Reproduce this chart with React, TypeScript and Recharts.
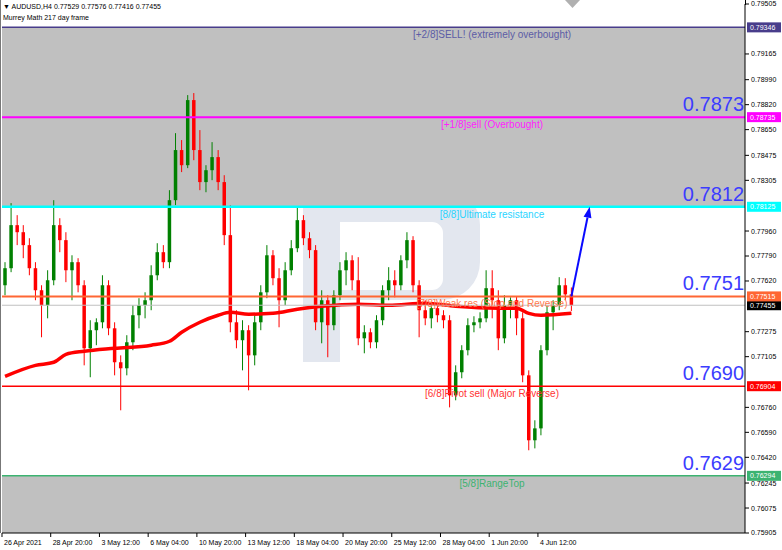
import React from "react";
import {
  Bar,
  ComposedChart,
  Customized,
  Line,
  ReferenceArea,
  ReferenceLine,
  XAxis,
  YAxis
} from "recharts";

const FONT = '"Liberation Sans", Arial, sans-serif';

// AUDUSD candles (two H4 bars per candle)
const opens = [
  0.77591, 0.77707, 0.78, 0.77952, 0.77864, 0.77707, 0.77557, 0.77455, 0.77625, 0.78,
  0.77898, 0.77693, 0.77748, 0.77591, 0.77162, 0.77285, 0.77339, 0.77591, 0.77298, 0.77067,
  0.77026, 0.77203, 0.77387, 0.77455, 0.77489, 0.77659, 0.77816, 0.77748, 0.7817, 0.78511,
  0.78408, 0.78851, 0.78511, 0.78293, 0.78374, 0.78463, 0.78293, 0.77932, 0.77339, 0.77217,
  0.77285, 0.77114, 0.77339, 0.77543, 0.77795, 0.77639, 0.77489, 0.77693, 0.77843, 0.78034,
  0.77911, 0.7783, 0.77339, 0.77489, 0.77319, 0.77523, 0.77693, 0.77761, 0.77625, 0.7723,
  0.77271, 0.77203, 0.77353, 0.77557, 0.77625, 0.77591, 0.77761, 0.77898, 0.77591, 0.77421,
  0.77366, 0.77435, 0.77387, 0.77353, 0.76842, 0.76999, 0.77149, 0.77319, 0.77339, 0.77366,
  0.77571, 0.77489, 0.7723, 0.77455, 0.77489, 0.77366, 0.76978, 0.76536, 0.76617, 0.77149,
  0.77407, 0.77455, 0.77591, 0.77529
];
const highs = [
  0.77748, 0.7815, 0.78068, 0.78, 0.77911, 0.77748, 0.77591, 0.77693, 0.7817, 0.78047,
  0.77952, 0.77795, 0.77775, 0.77625, 0.77353, 0.77366, 0.77659, 0.77625, 0.77339, 0.77114,
  0.77251, 0.77455, 0.77503, 0.77543, 0.77727, 0.77877, 0.77864, 0.78238, 0.78626, 0.78579,
  0.78885, 0.78899, 0.78647, 0.78408, 0.78565, 0.78511, 0.7834, 0.78136, 0.77421, 0.77353,
  0.77319, 0.77387, 0.77591, 0.77864, 0.7783, 0.77707, 0.77748, 0.77898, 0.78122, 0.78068,
  0.77952, 0.77864, 0.77557, 0.77523, 0.77557, 0.77748, 0.77816, 0.77795, 0.77782, 0.77319,
  0.77298, 0.77387, 0.77591, 0.77714, 0.77693, 0.77795, 0.77952, 0.77925, 0.77625, 0.77489,
  0.77475, 0.77469, 0.77421, 0.77387, 0.77046, 0.77183, 0.77366, 0.7738, 0.77407, 0.77693,
  0.77693, 0.77557, 0.77523, 0.77509, 0.77516, 0.77407, 0.77012, 0.76672, 0.77183, 0.77455,
  0.77489, 0.77646, 0.77639, 0.77576
];
const lows = [
  0.77523, 0.7768, 0.77864, 0.77775, 0.77659, 0.77489, 0.77237, 0.77366, 0.77591, 0.77816,
  0.77612, 0.77489, 0.77543, 0.77046, 0.76965, 0.77183, 0.77298, 0.77251, 0.76978, 0.7674,
  0.76978, 0.77149, 0.77298, 0.77366, 0.77421, 0.77625, 0.77707, 0.77707, 0.78136, 0.78361,
  0.78388, 0.78442, 0.78238, 0.78224, 0.78306, 0.78238, 0.77864, 0.77271, 0.77162, 0.77012,
  0.76876, 0.77046, 0.77285, 0.77503, 0.77591, 0.77305, 0.77455, 0.77659, 0.77816, 0.77864,
  0.77775, 0.77285, 0.77196, 0.77101, 0.77285, 0.77489, 0.77591, 0.77557, 0.77183, 0.77128,
  0.77162, 0.77162, 0.77319, 0.77489, 0.77509, 0.77557, 0.77707, 0.77543, 0.77237, 0.77319,
  0.77298, 0.77339, 0.77298, 0.7676, 0.76808, 0.76958, 0.77114, 0.77271, 0.77298, 0.77339,
  0.77366, 0.77149, 0.77196, 0.77366, 0.77251, 0.76931, 0.76468, 0.76481, 0.7657, 0.77114,
  0.77285, 0.77421, 0.77489, 0.77416
];
const closes = [
  0.77707, 0.78, 0.77952, 0.77864, 0.77707, 0.77557, 0.77455, 0.77625, 0.78, 0.77898,
  0.77693, 0.77748, 0.77591, 0.77162, 0.77285, 0.77339, 0.77591, 0.77298, 0.77067, 0.77026,
  0.77203, 0.77387, 0.77455, 0.77489, 0.77659, 0.77816, 0.77748, 0.7817, 0.78511, 0.78408,
  0.78851, 0.78511, 0.78293, 0.78374, 0.78463, 0.78293, 0.77932, 0.77339, 0.77217, 0.77285,
  0.77114, 0.77339, 0.77543, 0.77795, 0.77639, 0.77489, 0.77693, 0.77843, 0.78034, 0.77911,
  0.7783, 0.77339, 0.77489, 0.77319, 0.77523, 0.77693, 0.77761, 0.77625, 0.7723, 0.77271,
  0.77203, 0.77353, 0.77557, 0.77625, 0.77591, 0.77761, 0.77898, 0.77591, 0.77421, 0.77366,
  0.77435, 0.77387, 0.77353, 0.76842, 0.76999, 0.77149, 0.77319, 0.77339, 0.77366, 0.77571,
  0.77489, 0.7723, 0.77455, 0.77489, 0.77366, 0.76978, 0.76536, 0.76617, 0.77149, 0.77407,
  0.77455, 0.77591, 0.77529, 0.77455
];

// moving average, sampled where it was read
const maAt = [0, 5, 8, 10, 13, 18, 24, 27, 29, 32, 35, 37, 40, 44, 48, 52, 58, 63, 69, 74, 81, 84, 86, 88, 93];
const maValues = [
  0.76971, 0.77046, 0.77067, 0.77121, 0.77142, 0.77162, 0.77183, 0.7721, 0.77271, 0.77339,
  0.77387, 0.77407, 0.77394, 0.774, 0.77428, 0.77448, 0.77462, 0.77455, 0.77469, 0.77448,
  0.77435, 0.77435, 0.774, 0.77387, 0.774
];

const dateTicks = [0, 8, 16, 24, 32, 40, 48, 56, 64, 72, 80, 88];
const dateLabels = [
  "26 Apr 2021", "28 Apr 20:00", "3 May 12:00", "6 May 04:00", "10 May 20:00", "13 May 12:00",
  "18 May 04:00", "20 May 20:00", "25 May 12:00", "28 May 04:00", "1 Jun 20:00", "4 Jun 12:00"
];

const priceTicks = [
  0.75905, 0.76075, 0.76245, 0.7642, 0.7659, 0.7676, 0.77105, 0.77275, 0.7762, 0.7779,
  0.7796, 0.78305, 0.78475, 0.7865, 0.7882, 0.7899, 0.79165, 0.79505
];

const levelPrices = [0.79346, 0.78735, 0.78125, 0.77515, 0.76904, 0.76294];
const levelNames = [
  "[+2/8]SELL! (extremely overbought)",
  "[+1/8]sell (Overbought)",
  "[8/8]Ultimate resistance",
  "[7/8]Weak res (Stop and Reverse)",
  "[6/8]Pivot sell (Major Reverse)",
  "[5/8]RangeTop"
];
const levelBig = ["", "0.7873", "0.7812", "0.7751", "0.7690", "0.7629"];
const levelLineColors = ["#483d8b", "#ff00ff", "#00ffff", "#ff6633", "#ff0000", "#3cb371"];
const levelTextColors = ["#5c5ca6", "#ff22ff", "#2ad4ff", "#ff7a50", "#ff3333", "#3cb371"];
const levelWidths = [1.5, 2, 2.5, 2, 1.5, 1.5];

const lastPrice = 0.77455;
const header = ["\u25BC AUDUSD,H4  0.77529 0.77576 0.77416 0.77455", "Murrey Math 217 day frame"];
const grayZones = [
  [0.78125, 0.79346],
  [0.75905, 0.76294]
];
const arrowFrom = { x: 93, y: 0.77515 };
const arrowTo = { x: 96, y: 0.78125 };

const SLOTS = 122;

const table = Array.from({ length: SLOTS }, (_, k) => {
  const has = k < opens.length;
  const mi = maAt.indexOf(k);
  return {
    k,
    range: has ? [lows[k], highs[k]] : null,
    o: has ? opens[k] : null,
    c: has ? closes[k] : null,
    ma: mi >= 0 ? maValues[mi] : null
  };
});

const Candle = (props: any) => {
  const { x, y, width, height, payload } = props;
  if (!payload || payload.range == null) return null;
  const [lo, hi] = payload.range;
  const up = payload.c >= payload.o;
  const color = up ? "#008000" : "#ff0000";
  const top = Math.min(y, y + height);
  const h = Math.abs(height);
  const ratio = hi > lo ? h / (hi - lo) : 0;
  const bTop = top + (hi - Math.max(payload.o, payload.c)) * ratio;
  const bBot = top + (hi - Math.min(payload.o, payload.c)) * ratio;
  const cx = x + width / 2;
  return (
    <g>
      <line x1={cx} x2={cx} y1={top} y2={top + h} stroke={color} strokeWidth={1} />
      <rect x={cx - 1.75} y={bTop} width={3.5} height={Math.max(1, bBot - bTop)} fill={color} />
    </g>
  );
};

const XTick = (props: any) => {
  const { x, y, payload } = props;
  const i = dateTicks.indexOf(payload.value);
  if (i < 0) return <g />;
  const tx = x - 3.05;
  return (
    <g>
      <line x1={tx} x2={tx} y1={y} y2={y + 4} stroke="#000" />
      <text x={tx + 2} y={y + 12} fontSize={7} fontFamily={FONT} fill="#000">
        {dateLabels[i]}
      </text>
    </g>
  );
};

const levelLabel = (i: number) => (props: any) => {
  const vb = props.viewBox || {};
  const y = vb.y;
  const left = vb.x;
  const right = vb.x + vb.width;
  return (
    <g>
      <text
        x={left + 490}
        y={y + 11}
        textAnchor="middle"
        fontSize={10}
        fontFamily={FONT}
        fill={levelTextColors[i]}
      >
        {levelNames[i]}
      </text>
      {levelBig[i] && (
        <text x={right - 1} y={y - 6} textAnchor="end" fontSize={20} fontFamily={FONT} fill="#3c3cff">
          {levelBig[i]}
        </text>
      )}
      <rect x={right + 2} y={y - 5} width={34} height={10} fill={levelLineColors[i]} />
      <text x={right + 5} y={y + 2.5} fontSize={7} fontFamily={FONT} fill="#fff">
        {levelPrices[i].toFixed(5)}
      </text>
    </g>
  );
};

const lastLabel = (props: any) => {
  const vb = props.viewBox || {};
  const right = vb.x + vb.width;
  return (
    <g>
      <rect x={right + 2} y={vb.y - 5} width={34} height={10} fill="#000" />
      <text x={right + 5} y={vb.y + 2.5} fontSize={7} fontFamily={FONT} fill="#fff">
        {lastPrice.toFixed(5)}
      </text>
    </g>
  );
};

const Arrow = (p: any) => {
  const { x1, y1, x2, y2 } = p;
  const ang = Math.atan2(y2 - y1, x2 - x1);
  const len = 11;
  const half = 4;
  const bx = x2 - len * Math.cos(ang);
  const by = y2 - len * Math.sin(ang);
  const px = -Math.sin(ang) * half;
  const py = Math.cos(ang) * half;
  return (
    <g>
      <line x1={x1} y1={y1} x2={bx} y2={by} stroke="#0a0aff" strokeWidth={2} />
      <polygon points={`${x2},${y2} ${bx + px},${by + py} ${bx - px},${by - py}`} fill="#0a0aff" />
    </g>
  );
};

const Watermark = () => (
  <path
    d="M303,187 H442 A38,38 0 0 1 480,225 V262 A38,38 0 0 1 442,300 H340 V362 H303 Z M340,222 V290 H432 A11,11 0 0 0 443,279 V233 A11,11 0 0 0 432,222 Z"
    fill="#e3e7ef"
    fillRule="evenodd"
  />
);

export default function App() {
  return (
    <div
      style={{
        position: "absolute",
        left: 0,
        top: 0,
        width: 782,
        height: 550,
        background: "#fff",
        fontFamily: FONT
      }}
    >
      <ComposedChart width={782} height={550} data={table} margin={{ top: 4, right: 0, bottom: 0, left: 2 }}>
        {grayZones.map((z, i) => (
          <ReferenceArea key={i} y1={z[0]} y2={z[1]} fill="#c0c0c0" fillOpacity={1} stroke="none" />
        ))}
        <Customized component={Watermark} />
        <XAxis
          dataKey="k"
          type="category"
          height={17}
          interval={0}
          tickLine={false}
          tickSize={0}
          tickMargin={0}
          axisLine={{ stroke: "#000" }}
          tick={<XTick />}
        />
        <YAxis
          orientation="right"
          type="number"
          width={37}
          domain={[0.75905, 0.79505]}
          allowDataOverflow
          ticks={priceTicks}
          interval={0}
          tickSize={4}
          tickMargin={2}
          axisLine={{ stroke: "#000" }}
          tickLine={{ stroke: "#000" }}
          tick={{ fontSize: 7, fill: "#000", fontFamily: FONT, textAnchor: "start" }}
          tickFormatter={(v: number) => v.toFixed(5)}
        />
        <Bar dataKey="range" barSize={4} shape={<Candle />} isAnimationActive={false} />
        <Line
          dataKey="ma"
          type="monotone"
          stroke="#ff0000"
          strokeWidth={3.5}
          dot={false}
          connectNulls
          isAnimationActive={false}
        />
        <ReferenceLine y={lastPrice} stroke="#c0c0c0" strokeWidth={1} label={lastLabel} />
        {levelPrices.map((p, i) => (
          <ReferenceLine
            key={p}
            y={p}
            stroke={levelLineColors[i]}
            strokeWidth={levelWidths[i]}
            label={levelLabel(i)}
          />
        ))}
        <ReferenceLine segment={[arrowFrom, arrowTo]} shape={Arrow} />
      </ComposedChart>
      <div style={{ position: "absolute", left: 0, top: 0, width: 1, height: 533, background: "#777" }} />
      <div style={{ position: "absolute", left: 744.5, top: 0, width: 1, height: 5, background: "#000" }} />
      <svg style={{ position: "absolute", left: 0, top: 0 }} width={782} height={30}>
        <polygon points="565,0 580,0 572.5,8" fill="#b0b0b0" />
        <text x={3} y={9} fontSize={7} fontFamily={FONT} fill="#000">
          {header[0]}
        </text>
        <text x={3} y={20} fontSize={7} fontFamily={FONT} fill="#000">
          {header[1]}
        </text>
      </svg>
    </div>
  );
}
